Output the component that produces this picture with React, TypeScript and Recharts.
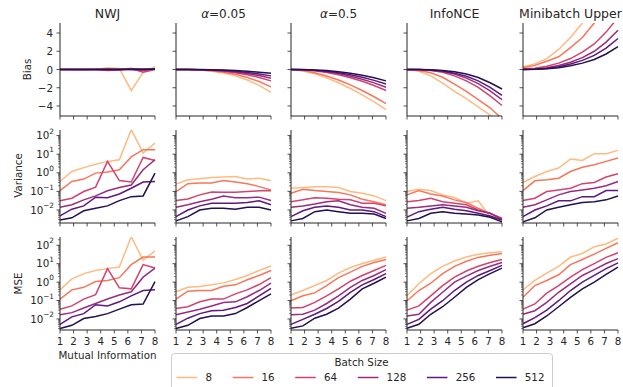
import { LineChart, Line, XAxis, YAxis } from "recharts";

// x positions of the estimates (true mutual information)
const miValues = [1, 1.875, 2.75, 3.625, 4.5, 5.375, 6.25, 7.125, 8];
const xTicks = [1, 2, 3, 4, 5, 6, 7, 8];
const biasTicks = [-4, -2, 0, 2, 4];
const batchSizes = [8, 16, 64, 128, 256, 512];
const batchColors = ["#febb81", "#f8765c", "#d3436e", "#982d80", "#5f187f", "#221150"];
const estimators = ["NWJ", "α=0.05", "α=0.5", "InfoNCE", "Minibatch Upper"];
const rowNames = ["Bias", "Variance", "MSE"];

// each array: one row per batch size (8, 16, 64, 128, 256, 512)
const nwjBias = [
  [0.02, 0, -0.05, 0, 0.2, 0.1, -2.3, -0.35, 0.3],
  [0, 0.02, 0, 0.02, 0.08, 0.05, 0.1, 0, 0.05],
  [0, 0, 0.02, 0, -0.1, -0.05, 0.1, -0.3, 0],
  [0, 0, 0, 0.02, 0, 0.03, -0.02, -0.1, 0.05],
  [0, 0, 0, 0, 0.02, 0, 0.03, 0.02, 0.05],
  [0, 0, 0, 0, 0, 0, 0.02, 0.02, 0.03],
];
const alpha005Bias = [
  [0, -0.01, -0.06, -0.18, -0.38, -0.7, -1.15, -1.74, -2.5],
  [0, -0.01, -0.05, -0.13, -0.29, -0.53, -0.87, -1.32, -1.9],
  [0, 0, -0.03, -0.09, -0.19, -0.35, -0.57, -0.87, -1.25],
  [0, 0, -0.02, -0.07, -0.15, -0.27, -0.44, -0.66, -0.95],
  [0, 0, -0.02, -0.05, -0.11, -0.2, -0.32, -0.49, -0.7],
  [0, 0, -0.01, -0.03, -0.06, -0.12, -0.19, -0.29, -0.42],
];
const alpha05Bias = [
  [0, -0.16, -0.48, -0.92, -1.45, -2.08, -2.78, -3.56, -4.4],
  [0, -0.11, -0.36, -0.71, -1.16, -1.69, -2.3, -2.99, -3.75],
  [0, -0.04, -0.14, -0.32, -0.58, -0.9, -1.29, -1.76, -2.3],
  [0, -0.02, -0.11, -0.25, -0.45, -0.73, -1.07, -1.47, -1.95],
  [0, -0.02, -0.08, -0.19, -0.35, -0.57, -0.85, -1.19, -1.6],
  [0, -0.01, -0.05, -0.12, -0.24, -0.41, -0.63, -0.91, -1.25],
];
const infoNceBias = [
  [0, -0.2, -0.7, -1.5, -2.4, -3.2, -4.1, -5.0, -5.9],
  [0, -0.1, -0.35, -0.85, -1.6, -2.4, -3.3, -4.2, -5.4],
  [0, -0.02, -0.1, -0.3, -0.7, -1.25, -1.95, -2.9, -3.95],
  [0, -0.01, -0.07, -0.22, -0.5, -0.95, -1.55, -2.35, -3.3],
  [0, 0, -0.05, -0.17, -0.4, -0.75, -1.25, -1.95, -2.83],
  [0, 0, -0.03, -0.1, -0.25, -0.5, -0.88, -1.45, -2.14],
];
const upperBias = [
  [0.3, 0.6, 1.2, 2.2, 3.5, 5.1, 7, 9, 11],
  [0.2, 0.45, 0.9, 1.4, 2.4, 3.5, 5.1, 7, 9],
  [0.05, 0.15, 0.35, 0.7, 1.2, 1.9, 2.8, 4.1, 5.7],
  [0, 0.05, 0.2, 0.45, 0.8, 1.3, 2.0, 3.0, 4.3],
  [0, 0.03, 0.12, 0.3, 0.6, 1.0, 1.55, 2.35, 3.4],
  [0, 0.02, 0.08, 0.2, 0.4, 0.7, 1.1, 1.7, 2.5],
];

const nwjVar = [
  [0.34, 1.17, 1.9, 2.9, 4.1, 5.0, 210, 11.5, 40],
  [0.11, 0.34, 0.46, 0.96, 1.1, 1.45, 7.1, 17.5, 17.5],
  [0.031, 0.043, 0.098, 0.17, 4.1, 0.38, 0.32, 6.7, 4.6],
  [0.014, 0.019, 0.035, 0.057, 0.107, 0.16, 0.22, 1.45, 5.0],
  [0.0048, 0.011, 0.0166, 0.049, 0.046, 0.072, 0.148, 0.32, 0.34],
  [0.0029, 0.0038, 0.0091, 0.0123, 0.0166, 0.032, 0.052, 0.057, 0.95],
];
const alpha005Var = [
  [0.245, 0.42, 0.48, 0.56, 0.6, 0.63, 0.46, 0.51, 0.37],
  [0.098, 0.26, 0.28, 0.28, 0.38, 0.32, 0.26, 0.18, 0.12],
  [0.032, 0.039, 0.065, 0.093, 0.091, 0.091, 0.098, 0.107, 0.107],
  [0.014, 0.019, 0.028, 0.038, 0.057, 0.046, 0.046, 0.049, 0.032],
  [0.0044, 0.01, 0.0166, 0.023, 0.023, 0.023, 0.025, 0.031, 0.019],
  [0.0026, 0.0044, 0.01, 0.0123, 0.0123, 0.011, 0.014, 0.014, 0.01],
];
const alpha05Var = [
  [0.148, 0.16, 0.18, 0.18, 0.16, 0.098, 0.08, 0.057, 0.032],
  [0.08, 0.13, 0.11, 0.098, 0.087, 0.065, 0.038, 0.028, 0.019],
  [0.028, 0.035, 0.046, 0.043, 0.038, 0.035, 0.023, 0.023, 0.0166],
  [0.014, 0.0166, 0.021, 0.028, 0.031, 0.019, 0.014, 0.0123, 0.0066],
  [0.0044, 0.0091, 0.014, 0.0166, 0.014, 0.01, 0.01, 0.0081, 0.0044],
  [0.0026, 0.0035, 0.0081, 0.01, 0.0081, 0.0066, 0.0066, 0.006, 0.0035],
];
const infoNceVar = [
  [0.098, 0.13, 0.11, 0.065, 0.047, 0.023, 0.031, 0.0044, 0.0029],
  [0.065, 0.11, 0.072, 0.057, 0.035, 0.025, 0.0123, 0.0066, 0.0035],
  [0.028, 0.032, 0.043, 0.028, 0.023, 0.019, 0.01, 0.0066, 0.0035],
  [0.0123, 0.014, 0.0166, 0.019, 0.0166, 0.014, 0.0091, 0.0066, 0.0032],
  [0.0041, 0.0081, 0.011, 0.014, 0.011, 0.0091, 0.0066, 0.0048, 0.0029],
  [0.0026, 0.0035, 0.0066, 0.0081, 0.0066, 0.006, 0.0054, 0.0041, 0.0023],
];
const upperVar = [
  [0.3, 0.63, 1.17, 1.8, 5.5, 4.6, 10.7, 10.7, 16],
  [0.11, 0.37, 0.42, 0.51, 1.17, 2.0, 2.7, 4.1, 6.2],
  [0.032, 0.043, 0.098, 0.12, 0.148, 0.26, 0.3, 0.59, 0.89],
  [0.014, 0.019, 0.035, 0.065, 0.098, 0.12, 0.148, 0.2, 0.34],
  [0.0044, 0.01, 0.0166, 0.031, 0.031, 0.052, 0.052, 0.11, 0.11],
  [0.0023, 0.0038, 0.01, 0.014, 0.019, 0.025, 0.028, 0.035, 0.057],
];

const nwjMse = [
  [0.38, 1.5, 2.9, 4.3, 5.4, 6.6, 290, 15.5, 50],
  [0.12, 0.38, 0.52, 1.07, 1.23, 1.74, 8.9, 23, 23],
  [0.034, 0.051, 0.12, 0.21, 5.4, 0.49, 0.43, 8.9, 5.8],
  [0.017, 0.022, 0.039, 0.069, 0.12, 0.2, 0.3, 1.86, 5.8],
  [0.0051, 0.013, 0.0195, 0.059, 0.051, 0.085, 0.18, 0.35, 0.39],
  [0.003, 0.0045, 0.0105, 0.0135, 0.0195, 0.034, 0.059, 0.065, 1.07],
];
const alpha005Mse = [
  [0.3, 0.52, 0.58, 0.71, 0.91, 1.38, 2.3, 4.3, 7.5],
  [0.12, 0.32, 0.35, 0.35, 0.59, 0.71, 1.35, 2.3, 4.3],
  [0.037, 0.046, 0.085, 0.12, 0.12, 0.23, 0.38, 0.74, 1.74],
  [0.017, 0.024, 0.034, 0.051, 0.079, 0.085, 0.16, 0.35, 0.87],
  [0.0051, 0.011, 0.0195, 0.028, 0.03, 0.042, 0.069, 0.18, 0.46],
  [0.003, 0.0045, 0.0105, 0.0145, 0.0145, 0.0195, 0.042, 0.098, 0.23],
];
const alpha05Mse = [
  [0.2, 0.35, 0.65, 1.23, 3.1, 6.2, 10.2, 15.5, 23],
  [0.098, 0.18, 0.26, 0.65, 1.74, 3.5, 7.2, 11.5, 17],
  [0.039, 0.042, 0.079, 0.18, 0.43, 1.12, 2.3, 4.3, 8.1],
  [0.017, 0.018, 0.03, 0.069, 0.18, 0.52, 1.23, 2.3, 4.8],
  [0.0051, 0.0095, 0.018, 0.037, 0.089, 0.28, 0.71, 1.38, 2.9],
  [0.0031, 0.0042, 0.011, 0.018, 0.039, 0.12, 0.43, 0.87, 1.86],
];
const infoNceMse = [
  [0.18, 0.81, 2.9, 7.2, 14, 23, 33, 39, 44],
  [0.098, 0.35, 0.87, 2.9, 7.2, 13.5, 22, 29, 36],
  [0.03, 0.051, 0.18, 0.65, 1.86, 4.0, 7.2, 11.5, 17],
  [0.0145, 0.018, 0.079, 0.28, 1.0, 2.1, 4.3, 7.2, 11.5],
  [0.0051, 0.0095, 0.034, 0.098, 0.35, 1.0, 2.3, 4.3, 8.1],
  [0.0031, 0.0051, 0.018, 0.046, 0.15, 0.52, 1.38, 2.9, 5.8],
];
const upperMse = [
  [0.38, 1.23, 3.1, 7.2, 23, 36, 83, 117, 240],
  [0.15, 0.65, 1.23, 2.5, 8.9, 17, 33, 68, 138],
  [0.034, 0.065, 0.25, 0.65, 1.86, 4.8, 10.2, 22, 39],
  [0.018, 0.028, 0.079, 0.28, 0.81, 2.3, 4.8, 10.2, 19],
  [0.0055, 0.0117, 0.03, 0.098, 0.35, 1.0, 2.3, 5.4, 11],
  [0.0033, 0.0055, 0.0145, 0.046, 0.15, 0.43, 1.0, 2.6, 6.6],
];

const rowData = [
  [nwjBias, alpha005Bias, alpha05Bias, infoNceBias, upperBias],
  [nwjVar, alpha005Var, alpha05Var, infoNceVar, upperVar],
  [nwjMse, alpha005Mse, alpha05Mse, infoNceMse, upperMse],
];

// layout
const COL_X = [60, 176, 291, 407, 523];
const ROW_Y = [23, 130, 237];
const PW = 95;
const PH = 93;
const YW = 50;
const TOPM = 10;
const RIGHTM = 6;
const XH = 22;
const INK = "#262626";
const FONT = "'DejaVu Sans', sans-serif";

const rowDomains: [number, number][] = [
  [-5.1, 5.1],
  [Math.pow(10, -2.7), Math.pow(10, 2.3)],
  [Math.pow(10, -2.6), Math.pow(10, 2.45)],
];

function logTicks(lo: number, hi: number) {
  const out: number[] = [];
  for (let e = -4; e <= 3; e++) {
    for (let m = 1; m <= 9; m++) {
      const v = m * Math.pow(10, e);
      if (v >= lo && v <= hi) out.push(v);
    }
  }
  return out;
}

const supMap: Record<string, string> = { "-": "\u2212" };

function makeYTick(log: boolean, showLabel: boolean) {
  return (props: any) => {
    const { x, y, payload } = props;
    const v = payload.value as number;
    let major = true;
    let exp = 0;
    if (log) {
      const lg = Math.log10(v);
      exp = Math.round(lg);
      major = Math.abs(lg - exp) < 1e-6;
    }
    const len = major ? 3.5 : 2;
    return (
      <g>
        <line x1={x - len} x2={x} y1={y} y2={y} stroke={INK} strokeWidth={major ? 0.8 : 0.6} />
        {showLabel && major && !log && (
          <text x={x - 7} y={y} textAnchor="end" dominantBaseline="central" fontSize={10.3} fill={INK} fontFamily={FONT}>
            {v < 0 ? "\u2212" + Math.abs(v) : String(v)}
          </text>
        )}
        {showLabel && major && log && (
          <text x={x - 6} y={y + 3.7} textAnchor="end" fontSize={10.3} fill={INK} fontFamily={FONT}>
            10
            <tspan dy={-5.5} fontSize={7.3}>
              {String(exp).split("").map((ch) => supMap[ch] || ch).join("")}
            </tspan>
          </text>
        )}
      </g>
    );
  };
}

function makeXTick(showLabel: boolean) {
  return (props: any) => {
    const { x, y, payload } = props;
    return (
      <g>
        <line x1={x} x2={x} y1={y} y2={y + 3.5} stroke={INK} strokeWidth={0.8} />
        {showLabel && (
          <text x={x} y={y + 14.5} textAnchor="middle" fontSize={10.3} fill={INK} fontFamily={FONT}>
            {payload.value}
          </text>
        )}
      </g>
    );
  };
}

function Panel({ r, c }: { r: number; c: number }) {
  const series = rowData[r][c];
  const data = miValues.map((x, i) => {
    const row: Record<string, number> = { x };
    batchSizes.forEach((b, k) => {
      row["b" + b] = series[k][i];
    });
    return row;
  });
  const log = r > 0;
  const dom = rowDomains[r];
  const yTicks = log ? logTicks(dom[0], dom[1]) : biasTicks;
  return (
    <div style={{ position: "absolute", left: COL_X[c] - YW, top: ROW_Y[r] - TOPM }}>
      <LineChart
        width={YW + PW + RIGHTM}
        height={TOPM + PH + XH}
        data={data}
        margin={{ top: TOPM, right: RIGHTM, bottom: 0, left: 0 }}
      >
        <XAxis
          type="number"
          dataKey="x"
          domain={[1, 8]}
          ticks={xTicks}
          interval={0}
          height={XH}
          tickSize={0}
          tickMargin={0}
          tickLine={false}
          axisLine={{ stroke: INK, strokeWidth: 1 }}
          tick={makeXTick(r === 2)}
        />
        <YAxis
          type="number"
          scale={log ? "log" : "linear"}
          domain={dom}
          allowDataOverflow
          ticks={yTicks}
          interval={0}
          width={YW}
          tickSize={0}
          tickMargin={0}
          tickLine={false}
          axisLine={{ stroke: INK, strokeWidth: 1 }}
          tick={makeYTick(log, c === 0)}
        />
        {batchSizes.map((b, k) => (
          <Line
            key={b}
            type="linear"
            dataKey={"b" + b}
            stroke={batchColors[k]}
            strokeWidth={1.5}
            dot={false}
            isAnimationActive={false}
          />
        ))}
      </LineChart>
    </div>
  );
}

function Title({ text, cx }: { text: string; cx: number }) {
  if (text.startsWith("α")) {
    return (
      <text x={cx} y={17.5} textAnchor="middle" fontSize={12} fill={INK} fontFamily={FONT}>
        <tspan fontStyle="italic">α</tspan>
        {text.slice(1)}
      </text>
    );
  }
  return (
    <text x={cx} y={17.5} textAnchor="middle" fontSize={12.5} fill={INK} fontFamily={FONT}>
      {text}
    </text>
  );
}

function Overlay() {
  const LF = 10.3;
  let cur = 176.7;
  const items = batchSizes.map((b) => {
    const x0 = cur;
    const tw = String(b).length * 0.636 * LF;
    cur += 2 * LF + 0.8 * LF + tw + 2 * LF;
    return { b, x0 };
  });
  const rowLabelX = [27, 18, 18];
  const rowLabelY = [69.5, 175.5, 283.5];
  return (
    <svg width={623} height={387} style={{ position: "absolute", left: 0, top: 0, pointerEvents: "none" }}>
      {estimators.map((e, c) => (
        <Title key={e} text={e} cx={COL_X[c] + PW / 2} />
      ))}
      {rowNames.map((n, r) => (
        <text
          key={n}
          transform={`translate(${rowLabelX[r]},${rowLabelY[r]}) rotate(-90)`}
          textAnchor="middle"
          dominantBaseline="central"
          fontSize={10.3}
          fill={INK}
          fontFamily={FONT}
        >
          {n}
        </text>
      ))}
      <text x={COL_X[0] + PW / 2} y={359} textAnchor="middle" fontSize={10.3} fill={INK} fontFamily={FONT}>
        Mutual Information
      </text>
      <rect x={171.5} y={353.5} width={381} height={45} rx={3} fill="#fff" fillOpacity={0.8} stroke="#cccccc" />
      <text x={361.5} y={366} textAnchor="middle" fontSize={10.3} fill={INK} fontFamily={FONT}>
        Batch Size
      </text>
      {items.map((it, k) => (
        <g key={it.b}>
          <line x1={it.x0} x2={it.x0 + 2 * LF} y1={377.5} y2={377.5} stroke={batchColors[k]} strokeWidth={1.5} />
          <text x={it.x0 + 2.8 * LF} y={381.2} fontSize={10.3} fill={INK} fontFamily={FONT}>
            {it.b}
          </text>
        </g>
      ))}
    </svg>
  );
}

export default function App() {
  return (
    <div
      style={{
        position: "absolute",
        left: 0,
        top: 0,
        width: 623,
        height: 387,
        overflow: "hidden",
        background: "#fff",
        fontFamily: FONT,
      }}
    >
      {rowNames.map((_, r) =>
        estimators.map((e, c) => <Panel key={r + "-" + e} r={r} c={c} />)
      )}
      <Overlay />
    </div>
  );
}
